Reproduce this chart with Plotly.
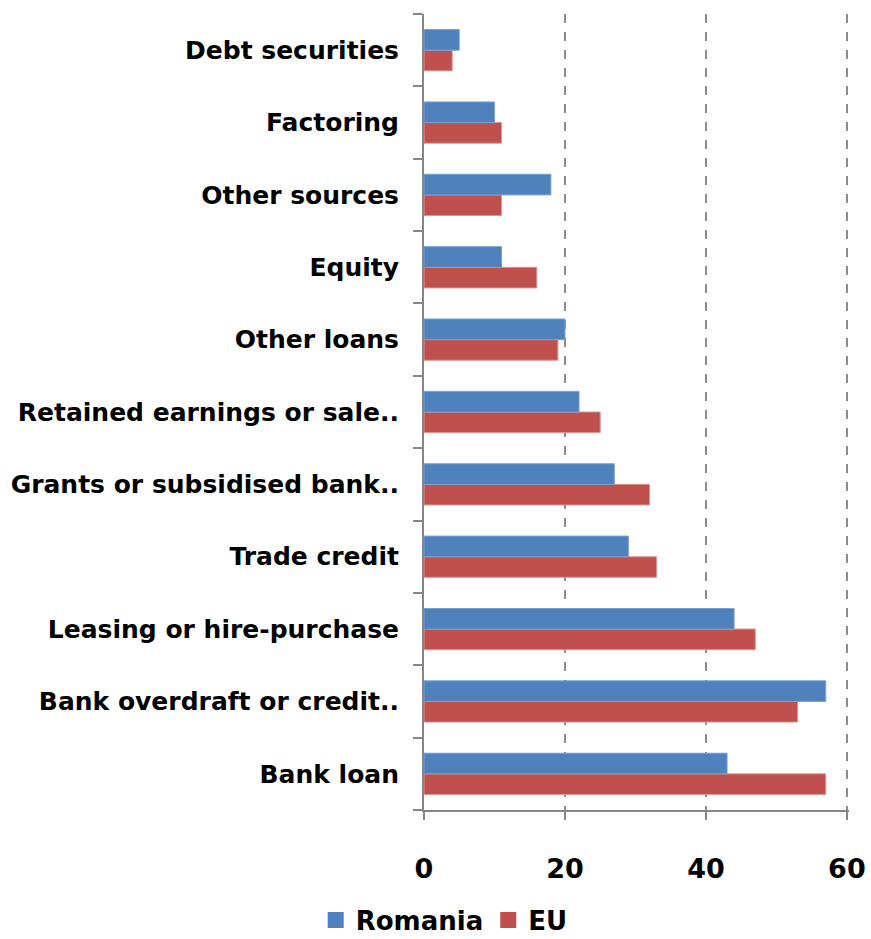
import plotly.graph_objects as go

# Sources of external financing used by SMEs (% of firms)
categories = [
    "Bank loan",
    "Bank overdraft or credit..",
    "Leasing or hire-purchase",
    "Trade credit",
    "Grants or subsidised bank..",
    "Retained earnings or sale..",
    "Other loans",
    "Equity",
    "Other sources",
    "Factoring",
    "Debt securities",
]
romania = [43, 57, 44, 29, 27, 22, 20, 11, 18, 10, 5]
eu = [57, 53, 47, 33, 32, 25, 19, 16, 11, 11, 4]
x_ticks = [0, 20, 40, 60]

FONT = "DejaVu Sans"
AXIS_GREY = "#868686"
BLUE, RED = "#4F81BD", "#C0504D"

fig = go.Figure()
# EU first so Romania sits above it within each category group
fig.add_trace(go.Bar(
    y=categories, x=eu, name="EU", orientation="h", showlegend=False,
    marker=dict(color=RED, line=dict(color="#D99694", width=1)),
))
fig.add_trace(go.Bar(
    y=categories, x=romania, name="Romania", orientation="h", showlegend=False,
    marker=dict(color=BLUE, line=dict(color="#7BA0CD", width=1)),
))
# Legend keys as larger square swatches
for name, color in [("EU", RED), ("Romania", BLUE)]:
    fig.add_trace(go.Scatter(
        x=[None], y=[None], mode="markers", name=name,
        marker=dict(symbol="square", size=17, color=color),
    ))

fig.update_layout(
    width=871, height=939,
    margin=dict(l=424, r=22, t=14, b=129),
    paper_bgcolor="white", plot_bgcolor="white",
    barmode="group", bargap=0.43, bargroupgap=0,
    font=dict(family=FONT, size=25, color="black"),
    showlegend=True,
    legend=dict(
        orientation="h", traceorder="reversed",
        xref="container", x=0.51, xanchor="center",
        yref="container", y=0.02, yanchor="middle",
        font=dict(family=FONT, size=26, color="black", weight="bold"),
        itemwidth=30, itemsizing="trace",
    ),
)

fig.update_xaxes(
    range=[0, 60.3], tickvals=x_ticks, ticktext=[str(v) for v in x_ticks],
    showgrid=True, gridcolor="#8c8c8c", griddash="dash", gridwidth=1.5,
    showline=True, linecolor=AXIS_GREY, linewidth=2,
    ticks="outside", ticklen=8, tickwidth=2, tickcolor=AXIS_GREY,
    tickfont=dict(family=FONT, size=27, color="black", weight="bold"),
    ticklabelstandoff=26, zeroline=False, automargin=False,
)
fig.update_yaxes(
    type="category", categoryorder="array", categoryarray=categories,
    showline=True, linecolor=AXIS_GREY, linewidth=2,
    ticks="outside", tickson="boundaries", ticklen=9, tickwidth=2,
    tickcolor=AXIS_GREY, showgrid=False,
    tickfont=dict(family=FONT, size=25, color="black", weight="bold"),
    ticklabelstandoff=18, automargin=False,
)

fig.write_html("out.html")
